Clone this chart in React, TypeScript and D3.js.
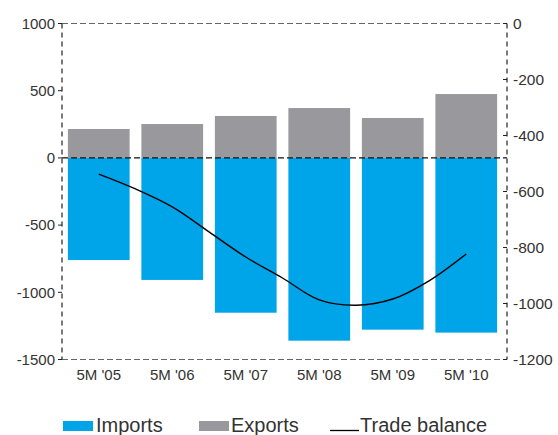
import React from "react";
import * as d3 from "d3";

const categories = ["5M '05", "5M '06", "5M '07", "5M '08", "5M '09", "5M '10"];
const imports = [-760, -908, -1152, -1360, -1278, -1300];
const exportsV = [215, 252, 312, 371, 297, 475];
// trade balance read at each category and halfway between categories (index positions)
const balanceIdx = [0, 0.5, 1, 1.5, 2, 2.5, 3, 3.5, 4, 4.5, 5];
const balance = [-538, -591, -655, -744, -834, -909, -987, -1006, -984, -918, -823];
const leftTicks = [1000, 500, 0, -500, -1000, -1500];
const rightTicks = [0, -200, -400, -600, -800, -1000, -1200];
const legendItems = ["Imports", "Exports", "Trade balance"];

const W = 558;
const H = 435;
const left = 62;
const right = 507;
const top = 23.5;
const bottom = 359.5;

const BLUE = "#00a5e9";
const GRAY = "#99989d";
const TXT = "#333";
const FONT = "'Liberation Sans', Arial, sans-serif";

export default function App() {
  const x = d3.scaleBand<string>().domain(categories).range([left, 503]).paddingInner(0.16).paddingOuter(0.08);
  const yL = d3.scaleLinear().domain([-1500, 1000]).range([bottom, top]);
  const yR = d3.scaleLinear().domain([-1200, 0]).range([bottom, top]);
  const bw = x.bandwidth();
  const xi = d3
    .scaleLinear()
    .domain([0, categories.length - 1])
    .range([(x(categories[0]) as number) + bw / 2, (x(categories[categories.length - 1]) as number) + bw / 2]);
  const line = d3
    .line<number>()
    .x((_, i) => xi(balanceIdx[i]))
    .y((d) => yR(d))
    .curve(d3.curveCatmullRom.alpha(0.5));

  return (
    <svg width={W} height={H} style={{ position: "absolute", left: 0, top: 0, background: "#fff" }} fontFamily={FONT}>
      {/* bars */}
      {categories.map((c, i) => (
        <g key={c}>
          <rect x={x(c)} width={bw} y={yL(0)} height={yL(imports[i]) - yL(0)} fill={BLUE} />
          <rect x={x(c)} width={bw} y={yL(exportsV[i])} height={yL(0) - yL(exportsV[i])} fill={GRAY} />
        </g>
      ))}
      {/* frame */}
      <line x1={left} x2={right} y1={top} y2={top} stroke="#666" strokeWidth={1.2} strokeDasharray="6,3" />
      <line x1={left} x2={right} y1={bottom} y2={bottom} stroke="#666" strokeWidth={1.2} strokeDasharray="6,3" />
      <line x1={left} x2={right} y1={yL(0)} y2={yL(0)} stroke="#111" strokeWidth={1.2} strokeDasharray="6,3" />
      <line x1={left} x2={left} y1={top} y2={bottom} stroke="#222" strokeWidth={1.2} strokeDasharray="5,4" />
      <line x1={right} x2={right} y1={top} y2={bottom} stroke="#222" strokeWidth={1.2} strokeDasharray="5,4" />
      {/* left ticks */}
      {leftTicks.map((t) => (
        <g key={"l" + t}>
          <line x1={left - 4} x2={left} y1={yL(t)} y2={yL(t)} stroke="#222" strokeWidth={1} />
          <text x={left - 7} y={yL(t)} dy="0.35em" textAnchor="end" fontSize={15} fill={TXT}>
            {t}
          </text>
        </g>
      ))}
      {/* right ticks */}
      {rightTicks.map((t) => (
        <g key={"r" + t}>
          <line x1={right - 4} x2={right} y1={yR(t)} y2={yR(t)} stroke="#222" strokeWidth={1} />
          <text x={right + 6} y={yR(t)} dy="0.35em" textAnchor="start" fontSize={15.5} fill={TXT}>
            {t}
          </text>
        </g>
      ))}
      {/* category labels */}
      {categories.map((c) => (
        <text key={"c" + c} x={(x(c) as number) + bw / 2} y={380} textAnchor="middle" fontSize={15} fill={TXT}>
          {c}
        </text>
      ))}
      {/* trade balance */}
      <path d={line(balance) || ""} fill="none" stroke="#000" strokeWidth={1.4} />
      {/* legend */}
      <rect x={63} y={421} width={30} height={10} fill={BLUE} />
      <text x={96} y={432} fontSize={20} fill={TXT}>{legendItems[0]}</text>
      <rect x={199} y={421} width={30} height={10} fill={GRAY} />
      <text x={231} y={432} fontSize={20} fill={TXT}>{legendItems[1]}</text>
      <line x1={330} x2={359} y1={430.5} y2={430.5} stroke="#000" strokeWidth={1.3} />
      <text x={360} y={432} fontSize={20} fill={TXT}>{legendItems[2]}</text>
    </svg>
  );
}
